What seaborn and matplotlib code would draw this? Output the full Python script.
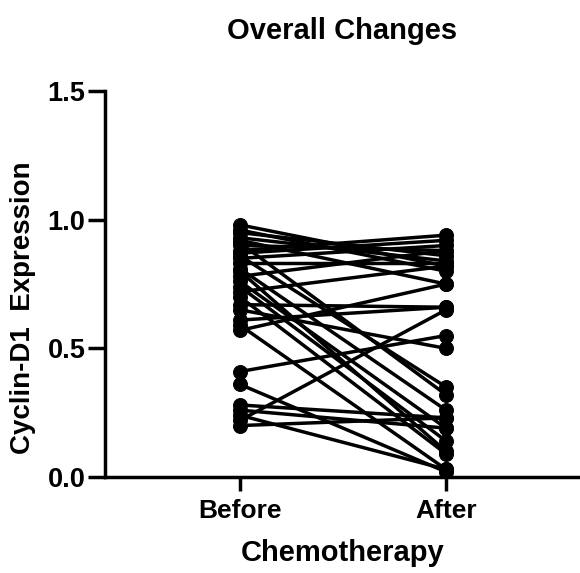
import numpy as np
import pandas as pd
import matplotlib
matplotlib.use("Agg")
import matplotlib.pyplot as plt
import seaborn as sns

# paired values (before -> after)
groups = ["Before", "After"]
before = [0.98, 0.96, 0.95, 0.93, 0.92, 0.91, 0.90, 0.88, 0.87, 0.86,
          0.85, 0.83, 0.81, 0.80, 0.78, 0.76, 0.74, 0.72, 0.70, 0.67,
          0.65, 0.61, 0.59, 0.57, 0.41, 0.36, 0.28, 0.26, 0.24, 0.22, 0.20]
after = [0.82, 0.80, 0.86, 0.84, 0.75, 0.32, 0.88, 0.94, 0.92, 0.35,
         0.90, 0.83, 0.26, 0.10, 0.88, 0.19, 0.14, 0.82, 0.09, 0.66,
         0.50, 0.66, 0.03, 0.75, 0.55, 0.02, 0.23, 0.19, 0.03, 0.65, 0.23]

df = pd.DataFrame({
    "subject": list(range(len(before))) * 2,
    "group": [groups[0]] * len(before) + [groups[1]] * len(after),
    "value": before + after,
})

sns.set_style("ticks")
plt.rcParams["font.family"] = ["Liberation Sans", "DejaVu Sans"]
plt.rcParams["font.weight"] = "bold"
plt.rcParams["text.color"] = "black"
plt.rcParams["axes.labelcolor"] = "black"
plt.rcParams["xtick.color"] = "black"
plt.rcParams["ytick.color"] = "black"

fig = plt.figure(figsize=(5.8, 5.73), dpi=100)
ax = fig.add_axes([0.181, 0.1675, 0.819, 0.6735])

sns.lineplot(data=df, x="group", y="value", units="subject", estimator=None,
             color="black", linewidth=2.5, marker="o", markersize=10,
             markeredgecolor="black", ax=ax, sort=False)

ax.set_xlim(-0.655, 1.65)
ax.set_ylim(0, 1.5)
ax.set_yticks([0, 0.5, 1.0, 1.5])
ax.set_yticklabels(["0.0", "0.5", "1.0", "1.5"])
sns.despine(ax=ax)
for s in ["left", "bottom"]:
    ax.spines[s].set_linewidth(2.5)
    ax.spines[s].set_color("black")
ax.tick_params(axis="y", length=12, width=2.5, labelsize=19.5, pad=2, colors="black")
ax.tick_params(axis="x", length=10, width=2.5, labelsize=19, pad=6, colors="black")
for lab in ax.get_xticklabels() + ax.get_yticklabels():
    lab.set_fontweight("bold")

ax.set_xlabel("Chemotherapy", fontsize=21, fontweight="bold", labelpad=11, color="black")
ax.set_ylabel("Cyclin-D1  Expression", fontsize=20, fontweight="bold", color="black")
ax.yaxis.set_label_coords(-0.146, 0.44)
fig.suptitle("Overall Changes", fontsize=21, fontweight="bold", x=0.59, y=0.97, color="black")

fig.savefig("out.png", dpi=100)
